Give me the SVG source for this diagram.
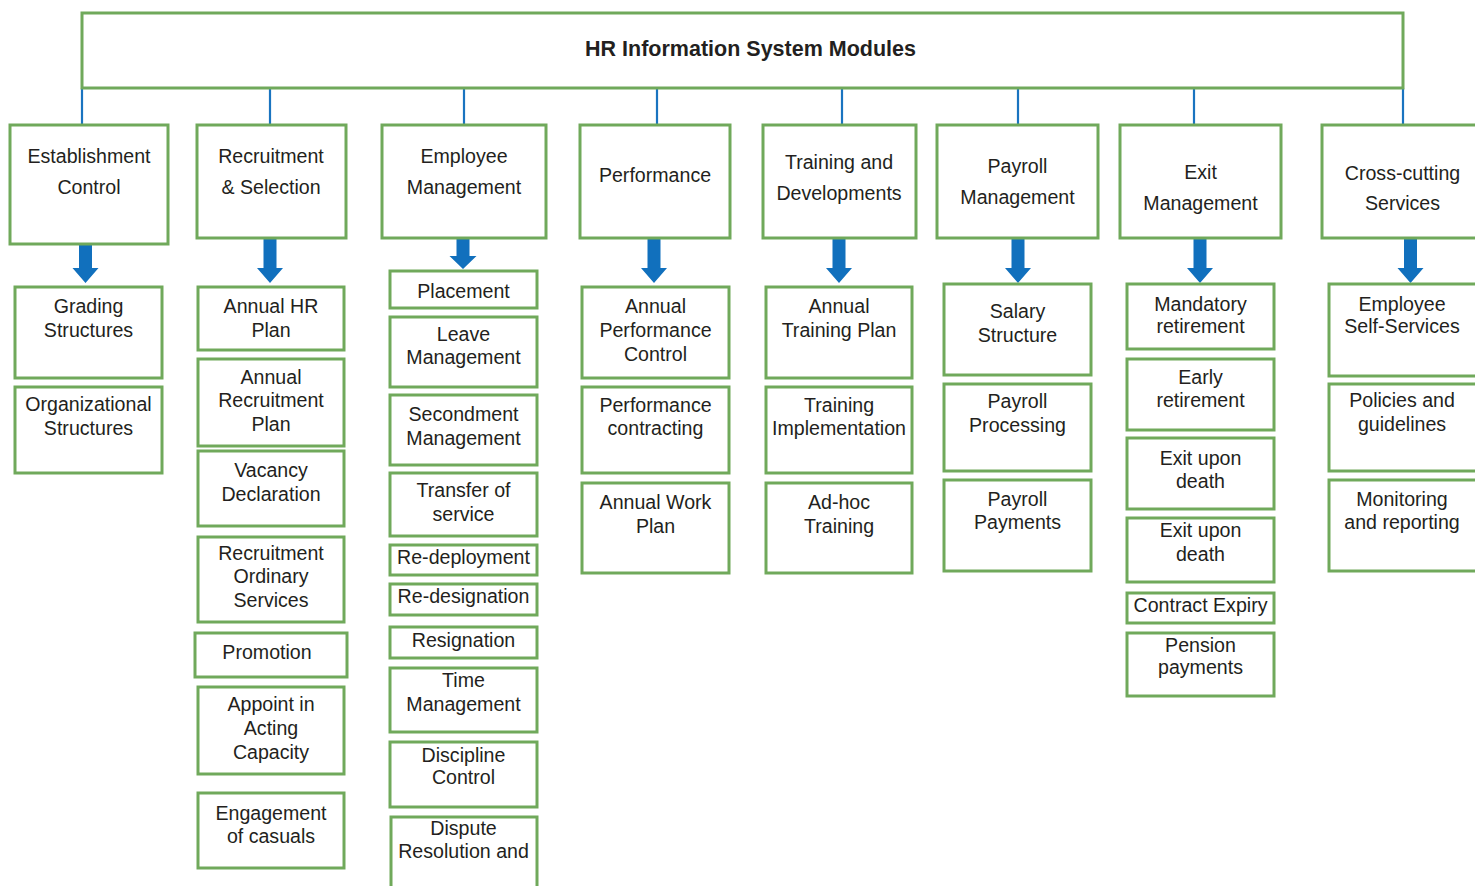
<svg xmlns="http://www.w3.org/2000/svg" width="1475" height="886" viewBox="0 0 1475 886">
  <style>
    .box { fill: #ffffff; stroke: #70a95b; stroke-width: 3; }
    .lbl { font-family: "Liberation Sans", Arial, sans-serif; font-size: 19.6px; fill: #231f20; text-anchor: middle; }
    .ttl { font-family: "Liberation Sans", Arial, sans-serif; font-size: 21.5px; font-weight: bold; fill: #231f20; text-anchor: middle; }
    .link { stroke: #1a74c0; stroke-width: 2.2; fill: none; }
    .blk { fill: #1170bd; }
  </style>
  <rect width="1475" height="886" fill="#ffffff"/>

  <!-- connectors: thin branch lines and block arrows -->
  <g id="connectors">
    <line class="link" x1="82" y1="88" x2="82" y2="125"/>
    <line class="link" x1="270" y1="88" x2="270" y2="125"/>
    <line class="link" x1="464" y1="88" x2="464" y2="125"/>
    <line class="link" x1="657" y1="88" x2="657" y2="125"/>
    <line class="link" x1="842" y1="88" x2="842" y2="125"/>
    <line class="link" x1="1018" y1="88" x2="1018" y2="125"/>
    <line class="link" x1="1194" y1="88" x2="1194" y2="125"/>
    <line class="link" x1="1403" y1="88" x2="1403" y2="125"/>

    <path class="blk" d="M79 244 H92 V268 H98.5 L85.5 283 L72.5 268 H79 Z"/>
    <path class="blk" d="M263.5 238 H276.5 V268 H283 L270 283 L257 268 H263.5 Z"/>
    <path class="blk" d="M456.5 238 H469.5 V256 H476.5 L463 269 L449.5 256 H456.5 Z"/>
    <path class="blk" d="M647.5 238 H660.5 V268 H667 L654 283 L641 268 H647.5 Z"/>
    <path class="blk" d="M832.5 238 H845.5 V268 H852 L839 283 L826 268 H832.5 Z"/>
    <path class="blk" d="M1011.5 238 H1024.5 V268 H1031 L1018 283 L1005 268 H1011.5 Z"/>
    <path class="blk" d="M1193.5 238 H1206.5 V268 H1213 L1200 283 L1187 268 H1193.5 Z"/>
    <path class="blk" d="M1404 238 H1417 V268 H1423.5 L1410.5 283 L1397.5 268 H1404 Z"/>
  </g>

  <!-- root -->
  <g id="root">
    <rect class="box" x="82" y="13" width="1321" height="75"/>
    <text class="ttl" x="750.5" y="56">HR Information System Modules</text>
  </g>

  <!-- module headers -->
  <g id="establishment-control">
    <rect class="box" x="10" y="125" width="158" height="119"/>
    <text class="lbl" x="89" y="163">Establishment</text>
    <text class="lbl" x="89" y="194">Control</text>
  </g>
  <g id="recruitment-selection">
    <rect class="box" x="197" y="125" width="149" height="113"/>
    <text class="lbl" x="271" y="163">Recruitment</text>
    <text class="lbl" x="271" y="194">&amp; Selection</text>
  </g>
  <g id="employee-management">
    <rect class="box" x="382" y="125" width="164" height="113"/>
    <text class="lbl" x="464" y="163">Employee</text>
    <text class="lbl" x="464" y="194">Management</text>
  </g>
  <g id="performance">
    <rect class="box" x="580" y="125" width="150" height="113"/>
    <text class="lbl" x="655" y="182">Performance</text>
  </g>
  <g id="training-developments">
    <rect class="box" x="763" y="125" width="153" height="113"/>
    <text class="lbl" x="839" y="169">Training and</text>
    <text class="lbl" x="839" y="200">Developments</text>
  </g>
  <g id="payroll-management">
    <rect class="box" x="937" y="125" width="161" height="113"/>
    <text class="lbl" x="1017.5" y="173">Payroll</text>
    <text class="lbl" x="1017.5" y="204">Management</text>
  </g>
  <g id="exit-management">
    <rect class="box" x="1120" y="125" width="161" height="113"/>
    <text class="lbl" x="1200.5" y="179">Exit</text>
    <text class="lbl" x="1200.5" y="210">Management</text>
  </g>
  <g id="cross-cutting-services">
    <rect class="box" x="1322" y="125" width="161" height="113"/>
    <text class="lbl" x="1402.5" y="180">Cross-cutting</text>
    <text class="lbl" x="1402.5" y="210">Services</text>
  </g>

  <!-- establishment control items -->
  <g id="grading-structures">
    <rect class="box" x="15" y="287" width="147" height="91"/>
    <text class="lbl" x="88.5" y="313">Grading</text>
    <text class="lbl" x="88.5" y="337">Structures</text>
  </g>
  <g id="organizational-structures">
    <rect class="box" x="15" y="387" width="147" height="86"/>
    <text class="lbl" x="88.5" y="411">Organizational</text>
    <text class="lbl" x="88.5" y="435">Structures</text>
  </g>

  <!-- recruitment items -->
  <g id="annual-hr-plan">
    <rect class="box" x="198" y="287" width="146" height="63"/>
    <text class="lbl" x="271" y="313">Annual HR</text>
    <text class="lbl" x="271" y="337">Plan</text>
  </g>
  <g id="annual-recruitment-plan">
    <rect class="box" x="198" y="359" width="146" height="87"/>
    <text class="lbl" x="271" y="384">Annual</text>
    <text class="lbl" x="271" y="407">Recruitment</text>
    <text class="lbl" x="271" y="431">Plan</text>
  </g>
  <g id="vacancy-declaration">
    <rect class="box" x="198" y="451" width="146" height="75"/>
    <text class="lbl" x="271" y="477">Vacancy</text>
    <text class="lbl" x="271" y="501">Declaration</text>
  </g>
  <g id="recruitment-ordinary-services">
    <rect class="box" x="198" y="537" width="146" height="85"/>
    <text class="lbl" x="271" y="560">Recruitment</text>
    <text class="lbl" x="271" y="583">Ordinary</text>
    <text class="lbl" x="271" y="607">Services</text>
  </g>
  <g id="promotion">
    <rect class="box" x="195" y="633" width="152" height="44"/>
    <text class="lbl" x="267" y="659">Promotion</text>
  </g>
  <g id="appoint-acting">
    <rect class="box" x="198" y="687" width="146" height="87"/>
    <text class="lbl" x="271" y="711">Appoint in</text>
    <text class="lbl" x="271" y="735">Acting</text>
    <text class="lbl" x="271" y="759">Capacity</text>
  </g>
  <g id="engagement-casuals">
    <rect class="box" x="198" y="793" width="146" height="75"/>
    <text class="lbl" x="271" y="820">Engagement</text>
    <text class="lbl" x="271" y="843">of casuals</text>
  </g>

  <!-- employee management items -->
  <g id="placement">
    <rect class="box" x="390" y="271" width="147" height="37"/>
    <text class="lbl" x="463.5" y="298">Placement</text>
  </g>
  <g id="leave-management">
    <rect class="box" x="390" y="317" width="147" height="70"/>
    <text class="lbl" x="463.5" y="341">Leave</text>
    <text class="lbl" x="463.5" y="364">Management</text>
  </g>
  <g id="secondment-management">
    <rect class="box" x="390" y="395" width="147" height="70"/>
    <text class="lbl" x="463.5" y="421">Secondment</text>
    <text class="lbl" x="463.5" y="445">Management</text>
  </g>
  <g id="transfer-service">
    <rect class="box" x="390" y="473" width="147" height="63"/>
    <text class="lbl" x="463.5" y="497">Transfer of</text>
    <text class="lbl" x="463.5" y="521">service</text>
  </g>
  <g id="re-deployment">
    <rect class="box" x="390" y="545" width="147" height="30"/>
    <text class="lbl" x="463.5" y="564">Re-deployment</text>
  </g>
  <g id="re-designation">
    <rect class="box" x="390" y="584" width="147" height="31"/>
    <text class="lbl" x="463.5" y="603">Re-designation</text>
  </g>
  <g id="resignation">
    <rect class="box" x="390" y="627" width="147" height="31"/>
    <text class="lbl" x="463.5" y="647">Resignation</text>
  </g>
  <g id="time-management">
    <rect class="box" x="390" y="668" width="147" height="64"/>
    <text class="lbl" x="463.5" y="687">Time</text>
    <text class="lbl" x="463.5" y="711">Management</text>
  </g>
  <g id="discipline-control">
    <rect class="box" x="390" y="742" width="147" height="65"/>
    <text class="lbl" x="463.5" y="762">Discipline</text>
    <text class="lbl" x="463.5" y="784">Control</text>
  </g>
  <g id="dispute-resolution">
    <rect class="box" x="391" y="817" width="146" height="90"/>
    <text class="lbl" x="463.5" y="835">Dispute</text>
    <text class="lbl" x="463.5" y="858">Resolution and</text>
  </g>

  <!-- performance items -->
  <g id="annual-performance-control">
    <rect class="box" x="582" y="287" width="147" height="91"/>
    <text class="lbl" x="655.5" y="313">Annual</text>
    <text class="lbl" x="655.5" y="337">Performance</text>
    <text class="lbl" x="655.5" y="361">Control</text>
  </g>
  <g id="performance-contracting">
    <rect class="box" x="582" y="387" width="147" height="86"/>
    <text class="lbl" x="655.5" y="412">Performance</text>
    <text class="lbl" x="655.5" y="435">contracting</text>
  </g>
  <g id="annual-work-plan">
    <rect class="box" x="582" y="483" width="147" height="90"/>
    <text class="lbl" x="655.5" y="509">Annual Work</text>
    <text class="lbl" x="655.5" y="533">Plan</text>
  </g>

  <!-- training items -->
  <g id="annual-training-plan">
    <rect class="box" x="766" y="287" width="146" height="91"/>
    <text class="lbl" x="839" y="313">Annual</text>
    <text class="lbl" x="839" y="337">Training Plan</text>
  </g>
  <g id="training-implementation">
    <rect class="box" x="766" y="387" width="146" height="86"/>
    <text class="lbl" x="839" y="412">Training</text>
    <text class="lbl" x="839" y="435">Implementation</text>
  </g>
  <g id="ad-hoc-training">
    <rect class="box" x="766" y="483" width="146" height="90"/>
    <text class="lbl" x="839" y="509">Ad-hoc</text>
    <text class="lbl" x="839" y="533">Training</text>
  </g>

  <!-- payroll items -->
  <g id="salary-structure">
    <rect class="box" x="944" y="284" width="147" height="91"/>
    <text class="lbl" x="1017.5" y="318">Salary</text>
    <text class="lbl" x="1017.5" y="342">Structure</text>
  </g>
  <g id="payroll-processing">
    <rect class="box" x="944" y="384" width="147" height="87"/>
    <text class="lbl" x="1017.5" y="408">Payroll</text>
    <text class="lbl" x="1017.5" y="432">Processing</text>
  </g>
  <g id="payroll-payments">
    <rect class="box" x="944" y="480" width="147" height="91"/>
    <text class="lbl" x="1017.5" y="506">Payroll</text>
    <text class="lbl" x="1017.5" y="529">Payments</text>
  </g>

  <!-- exit items -->
  <g id="mandatory-retirement">
    <rect class="box" x="1127" y="284" width="147" height="65"/>
    <text class="lbl" x="1200.5" y="311">Mandatory</text>
    <text class="lbl" x="1200.5" y="333">retirement</text>
  </g>
  <g id="early-retirement">
    <rect class="box" x="1127" y="359" width="147" height="71"/>
    <text class="lbl" x="1200.5" y="384">Early</text>
    <text class="lbl" x="1200.5" y="407">retirement</text>
  </g>
  <g id="exit-death-1">
    <rect class="box" x="1127" y="438" width="147" height="71"/>
    <text class="lbl" x="1200.5" y="465">Exit upon</text>
    <text class="lbl" x="1200.5" y="488">death</text>
  </g>
  <g id="exit-death-2">
    <rect class="box" x="1127" y="518" width="147" height="64"/>
    <text class="lbl" x="1200.5" y="537">Exit upon</text>
    <text class="lbl" x="1200.5" y="561">death</text>
  </g>
  <g id="contract-expiry">
    <rect class="box" x="1127" y="593" width="147" height="30"/>
    <text class="lbl" x="1200.5" y="612">Contract Expiry</text>
  </g>
  <g id="pension-payments">
    <rect class="box" x="1127" y="633" width="147" height="63"/>
    <text class="lbl" x="1200.5" y="652">Pension</text>
    <text class="lbl" x="1200.5" y="674">payments</text>
  </g>

  <!-- cross-cutting items -->
  <g id="employee-self-services">
    <rect class="box" x="1329" y="284" width="150" height="92"/>
    <text class="lbl" x="1402" y="311">Employee</text>
    <text class="lbl" x="1402" y="333">Self-Services</text>
  </g>
  <g id="policies-guidelines">
    <rect class="box" x="1329" y="384" width="150" height="87"/>
    <text class="lbl" x="1402" y="407">Policies and</text>
    <text class="lbl" x="1402" y="431">guidelines</text>
  </g>
  <g id="monitoring-reporting">
    <rect class="box" x="1329" y="480" width="150" height="91"/>
    <text class="lbl" x="1402" y="506">Monitoring</text>
    <text class="lbl" x="1402" y="529">and reporting</text>
  </g>
</svg>
